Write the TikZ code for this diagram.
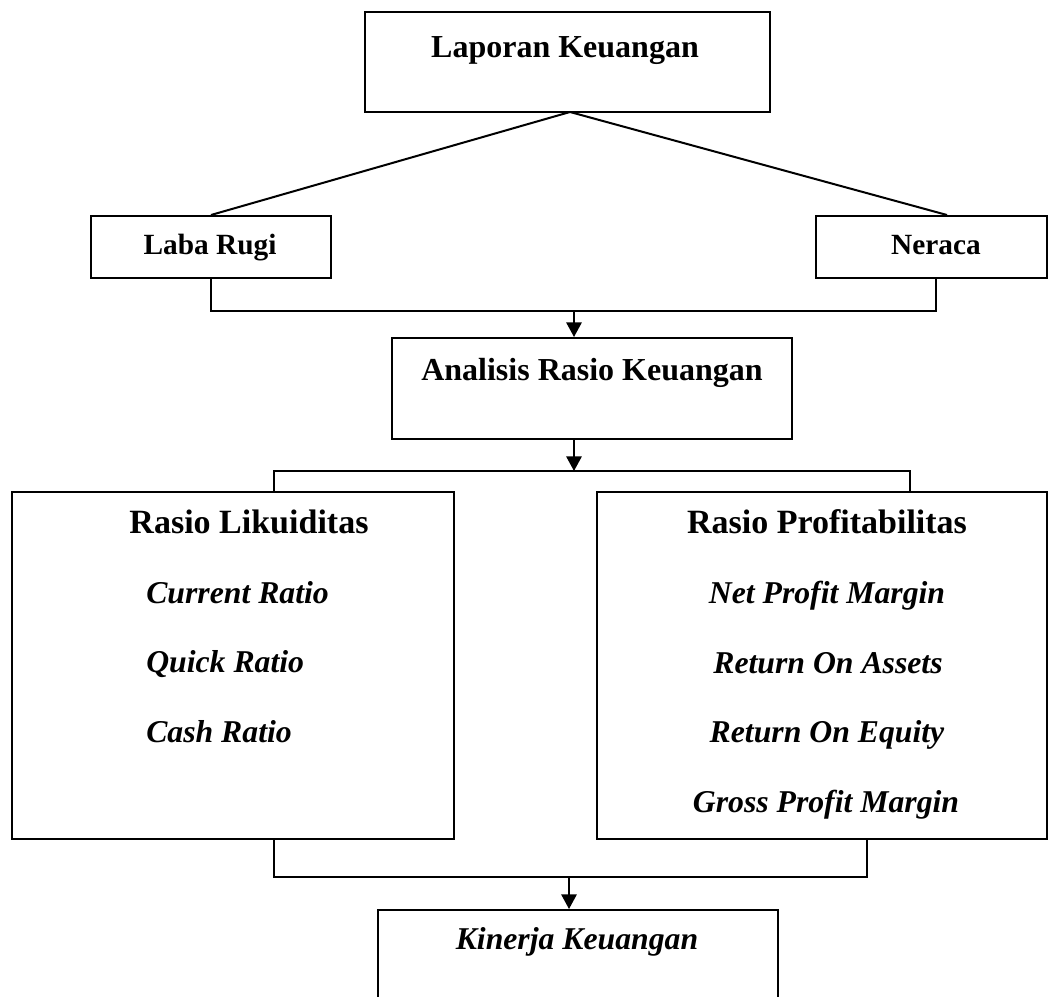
\documentclass[tikz,border=0pt]{standalone}
\usepackage{fontspec}
\setmainfont{Liberation Serif}
\usetikzlibrary{fit,calc,arrows.meta}
\begin{document}
\begin{tikzpicture}[x=0.75pt,y=-0.75pt,
  box/.style={draw, line width=1.5pt, inner sep=0pt, rectangle},
  conn/.style={line width=1.5pt},
  arr/.style={line width=1.5pt, -{Triangle[length=11pt,width=11.5pt]}},
  lbl/.style={inner sep=0pt, anchor=base},
  ttl/.style={font=\fontsize{24}{28}\selectfont\bfseries},
  sml/.style={font=\fontsize{22}{26}\selectfont\bfseries},
  big/.style={font=\fontsize{25.5}{30}\selectfont\bfseries},
  itl/.style={font=\fontsize{23.8}{28}\selectfont\bfseries\itshape}
]
\useasboundingbox (0,0) rectangle (1048,996);
\clip (0,0) rectangle (1048,996);

% boxes
\node[box, fit={(365,12) (770,112)}] (lap) {};
\node[box, fit={(91,216) (331,278)}] (laba) {};
\node[box, fit={(816,216) (1047,278)}] (neraca) {};
\node[box, fit={(392,338) (792,439)}] (analisis) {};
\node[box, fit={(12,492) (454,839)}] (likuid) {};
\node[box, fit={(597,492) (1047,839)}] (profit) {};
\node[box, fit={(378,910) (778,1010)}] (kinerja) {};

% texts
\node[lbl, ttl] (tlap) at (565,57) {Laporan Keuangan};
\node[lbl, sml] (tlaba) at (210,254) {Laba Rugi};
\node[lbl, sml] (tneraca) at (936,254) {Neraca};
\node[lbl, ttl] (tanalisis) at (592,380) {Analisis Rasio Keuangan};
\node[lbl, big] (tlikuid) at (249,533) {Rasio Likuiditas};
\node[lbl, itl, anchor=base west] (cr) at (146,603) {Current Ratio};
\node[lbl, itl, anchor=base west] (qr) at (146,672) {Quick Ratio};
\node[lbl, itl, anchor=base west] (cashr) at (146,742) {Cash Ratio};
\node[lbl, big] (tprofit) at (827,533) {Rasio Profitabilitas};
\node[lbl, itl] (npm) at (827,603) {Net Profit Margin};
\node[lbl, itl] (roa) at (828,673) {Return On Assets};
\node[lbl, itl] (roe) at (827,742) {Return On Equity};
\node[lbl, itl] (gpm) at (826,812) {Gross Profit Margin};
\node[lbl, itl] (tkinerja) at (577,949) {Kinerja Keuangan};

% junction coordinates
\coordinate (j1) at (574,311);
\coordinate (j2) at (574,471);
\coordinate (j2l) at (274,471);
\coordinate (j2r) at (910,471);
\coordinate (j3) at (569,877);
\coordinate (j3l) at (274,877);
\coordinate (j3r) at (867,877);
\coordinate (apex) at (570,112);

% connectors
\draw[conn] (laba.north) -- (apex) -- ($(neraca.north)+(15.5,0)$);
\draw[conn] (laba.south) |- (j1) -| ($(neraca.south)+(4.5,0)$);
\draw[arr] (j1) -- (j1 |- analisis.north);
\draw[arr] (j1 |- analisis.south) -- (j2);
\draw[conn] (likuid.north -| j2l) -- (j2l) -- (j2r) -- (j2r |- profit.north);
\draw[conn] (likuid.south -| j3l) -- (j3l) -- (j3r) -- (j3r |- profit.south);
\draw[arr] (j3) -- (j3 |- kinerja.north);
\end{tikzpicture}
\end{document}
